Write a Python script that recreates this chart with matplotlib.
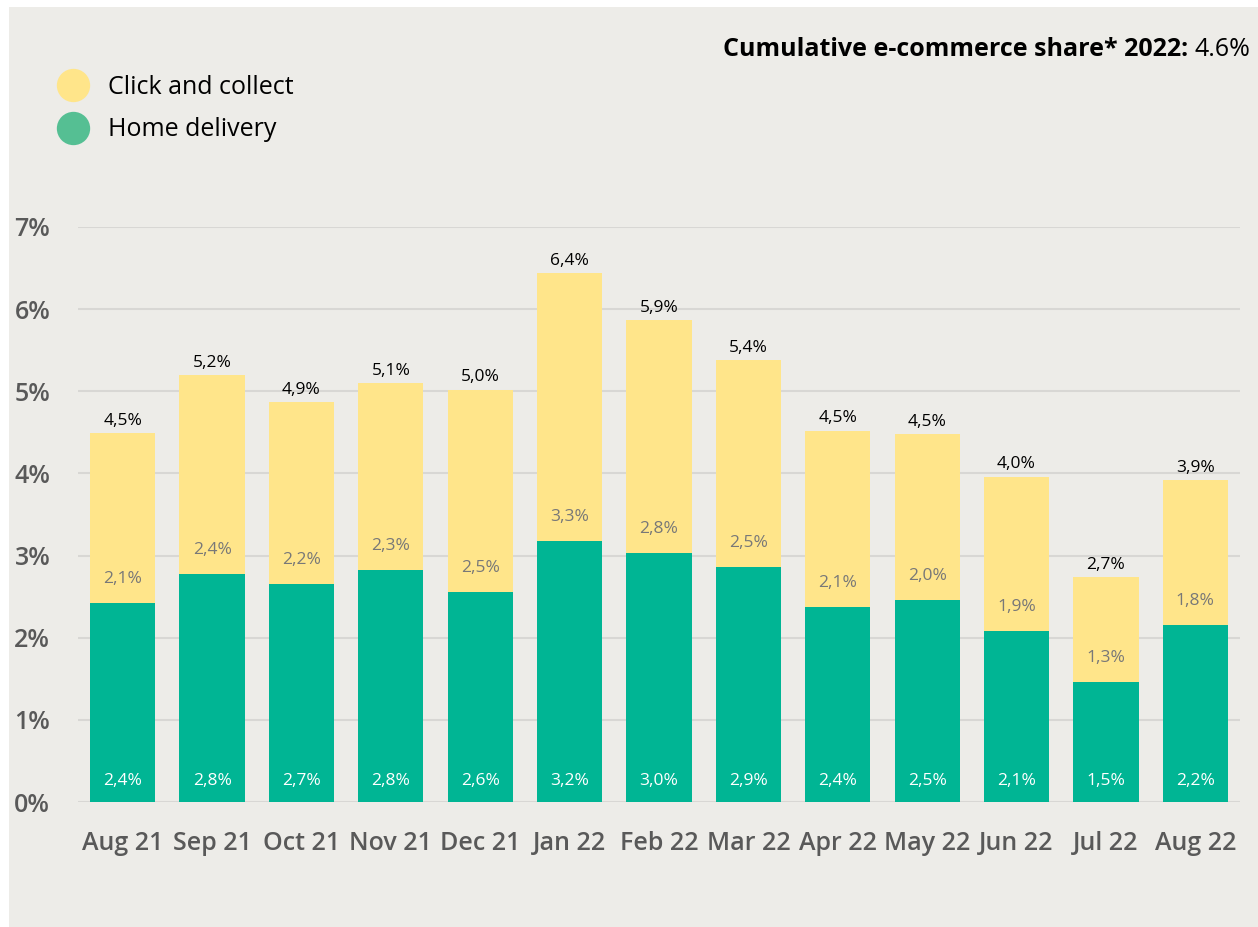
import numpy as np
import matplotlib.pyplot as plt
from matplotlib.patches import Rectangle
from matplotlib.lines import Line2D

plt.rcParams['font.family'] = ['Open Sans', 'DejaVu Sans']

months = ['Aug 21', 'Sep 21', 'Oct 21', 'Nov 21', 'Dec 21', 'Jan 22', 'Feb 22',
          'Mar 22', 'Apr 22', 'May 22', 'Jun 22', 'Jul 22', 'Aug 22']
home = [2.42, 2.78, 2.66, 2.83, 2.56, 3.18, 3.03, 2.86, 2.38, 2.46, 2.08, 1.46, 2.16]
click = [2.07, 2.42, 2.21, 2.27, 2.46, 3.26, 2.84, 2.52, 2.14, 2.02, 1.88, 1.28, 1.76]
yticks = [0, 1, 2, 3, 4, 5, 6, 7]

bg = '#EDECE8'
green = '#00B594'
yellow = '#FFE58A'


def pct(v):
    return f'{v:.1f}%'.replace('.', ',')


fig = plt.figure(figsize=(12.58, 9.27), dpi=100, facecolor=bg)
# white margin on the left and top
fig.patches.append(Rectangle((0, 0), 9 / 1258, 1, transform=fig.transFigure,
                             facecolor='white', edgecolor='none', zorder=-5))
fig.patches.append(Rectangle((0, 1 - 7 / 927), 1, 7 / 927, transform=fig.transFigure,
                             facecolor='white', edgecolor='none', zorder=-5))

ax = fig.add_axes([78 / 1258, (927 - 802) / 927, (1240 - 78) / 1258, (802 - 227) / 927])
ax.set_facecolor(bg)

x = np.arange(len(months))
home = np.array(home)
click = np.array(click)
total = home + click

ax.bar(x, home, width=0.73, color=green, zorder=3)
ax.bar(x, click, width=0.73, bottom=home, color=yellow, zorder=3)

for i in range(len(x)):
    ax.text(x[i], 0.26, pct(home[i]), ha='center', va='center', color='white',
            fontsize=12.5, zorder=4)
    ax.text(x[i], home[i] + 0.29, pct(click[i]), ha='center', va='center', color='#787878',
            fontsize=12.5, zorder=4)
    ax.text(x[i], total[i] + 0.15, pct(total[i]), ha='center', va='center', color='black',
            fontsize=12.5, zorder=4)

ax.set_xlim(-0.5, len(months) - 0.5)
ax.set_ylim(0, 7)
ax.set_yticks(yticks)
ax.set_yticklabels([f'{t}%' for t in yticks])
ax.set_xticks(x)
ax.set_xticklabels(months)
ax.grid(axis='y', color='#D8D7D4', linewidth=1.5, zorder=1)
for s in ax.spines.values():
    s.set_visible(False)
ax.tick_params(length=0)
ax.tick_params(axis='x', pad=21)
ax.tick_params(axis='y', pad=20)
for lbl in ax.get_xticklabels() + ax.get_yticklabels():
    lbl.set_color('#595959')
    lbl.set_fontsize(18)
    lbl.set_fontweight('semibold')

# legend
handles = [Line2D([], [], marker='o', linestyle='none', markersize=24,
                  markerfacecolor=yellow, markeredgecolor='none'),
           Line2D([], [], marker='o', linestyle='none', markersize=24,
                  markerfacecolor='#55BF93', markeredgecolor='none')]
fig.legend(handles, ['Click and collect', 'Home delivery'], loc='upper left',
           bbox_to_anchor=(44 / 1258, 1 - 62 / 927), frameon=False, fontsize=18,
           handletextpad=0.75, labelspacing=0.72, handlelength=1.3, borderpad=0)

val = fig.text(1250 / 1258, 1 - 49 / 927, '4.6%', ha='right', va='center', fontsize=18)
ax.annotate('Cumulative e-commerce share* 2022:', xy=(0, 0.5), xycoords=val,
            xytext=(-4, 0), textcoords='offset points', ha='right', va='center',
            fontsize=18, fontweight='bold', annotation_clip=False)

fig.savefig('out.png', dpi=100, facecolor=bg)
